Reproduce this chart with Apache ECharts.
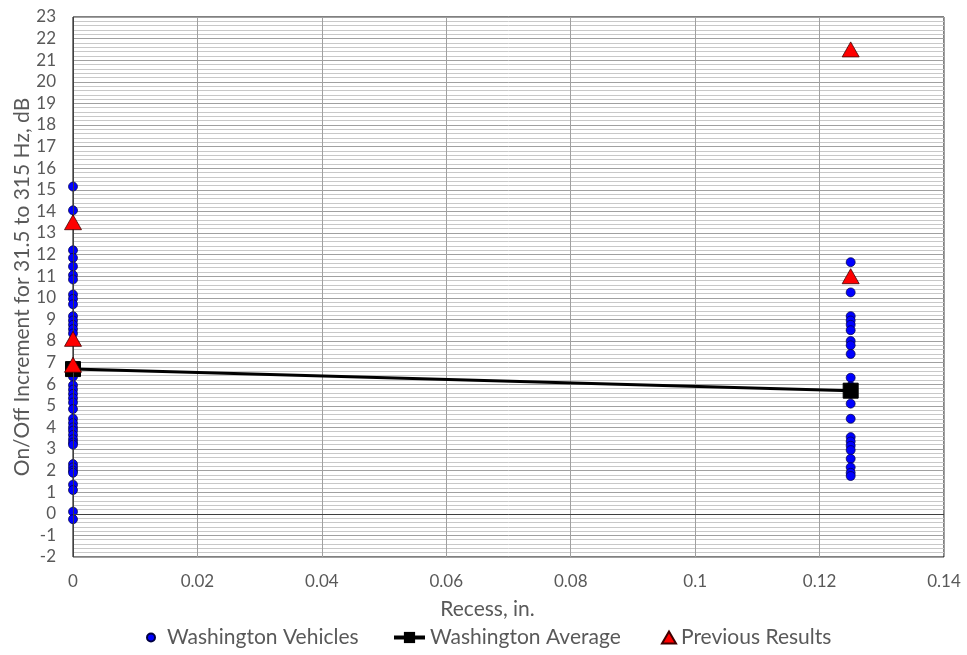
<!DOCTYPE html>
<html>
<head>
<meta charset="utf-8">
<script src="https://cdn.jsdelivr.net/npm/echarts@6/dist/echarts.min.js"></script>
<style>
  html, body { margin: 0; padding: 0; background: #fff; }
  #chart { width: 967px; height: 655px; }
</style>
</head>
<body>
<div id="chart"></div>
<script>
// Recess depths (in.) at which vehicles were measured
const recessFlush = 0;
const recessDeep = 0.125;

// On/Off increment (dB) for each Washington vehicle, flush sensor
const vehiclesFlush = [15.15, 14.05, 12.2, 11.85, 11.45, 11.05, 10.85, 10.15, 9.95, 9.7,
  9.15, 8.95, 8.75, 8.55, 8.35, 6.45, 6.35, 5.95, 5.75, 5.55, 5.35, 5.15, 4.85,
  4.4, 4.2, 4.0, 3.85, 3.65, 3.45, 3.3, 3.2, 2.3, 2.15, 2.0, 1.9, 1.35, 1.1, 0.1, -0.25];

// On/Off increment (dB) for each Washington vehicle, recessed sensor
const vehiclesDeep = [11.65, 10.25, 9.15, 8.95, 8.75, 8.5, 8.0, 7.8, 7.4, 6.3, 5.9, 5.55,
  5.1, 4.4, 3.55, 3.35, 3.15, 2.95, 2.55, 2.15, 1.9, 1.75];

// Average per recess depth
const averageRecess = [0, 0.125];
const averageValues = [6.7, 5.7];

// Earlier study results
const previousRecess = [0, 0, 0, 0.125, 0.125];
const previousValues = [13.5, 8.1, 6.9, 21.5, 11.0];

const vehiclePoints = vehiclesFlush.map(v => [recessFlush, v])
  .concat(vehiclesDeep.map(v => [recessDeep, v]));
const averagePoints = averageRecess.map((x, i) => [x, averageValues[i]]);
const previousPoints = previousRecess.map((x, i) => [x, previousValues[i]]);

const FONT = 'Lato';
const TEXT = '#595959';
const legendText = { fontFamily: FONT, fontSize: 21, color: TEXT };

// One legend block per series so each key gets its own icon size
function legendBlock(name, left, w, h, icon) {
  const item = { name: name };
  if (icon) item.icon = icon;
  return {
    bottom: 7, left: left, padding: 0,
    itemWidth: w, itemHeight: h,
    lineStyle: { width: 4 },
    textStyle: legendText,
    data: [item]
  };
}

const chart = echarts.init(document.getElementById('chart'));
chart.setOption({
  animation: false,
  textStyle: { fontFamily: FONT },
  grid: {
    left: 73, right: 23, top: 17, bottom: 98,
    outerBoundsMode: 'none',
    show: true, borderColor: '#000', borderWidth: 1, backgroundColor: 'transparent'
  },
  legend: [
    legendBlock('Washington Vehicles', 146, 22, 8, 'circle'),
    legendBlock('Washington Average', 392, 31, 14),
    legendBlock('Previous Results', 661, 14, 12, 'triangle')
  ],
  xAxis: {
    type: 'value',
    min: 0, max: 0.14, interval: 0.02,
    name: 'Recess, in.',
    nameLocation: 'middle',
    nameGap: 42,
    nameMoveOverlap: false,
    nameTextStyle: { fontFamily: FONT, fontSize: 21, color: TEXT, padding: [0, 42, 0, 0] },
    axisLine: { show: false, onZero: false },
    axisTick: { show: false },
    axisLabel: { fontFamily: FONT, fontSize: 17, color: TEXT, margin: 16 },
    splitLine: { show: true, lineStyle: { color: '#a0a0a0', width: 1 } }
  },
  yAxis: {
    type: 'value',
    min: -2, max: 23, interval: 1,
    name: 'On/Off Increment for 31.5 to 315 Hz, dB',
    nameLocation: 'middle',
    nameGap: 40,
    nameMoveOverlap: false,
    nameTextStyle: { fontFamily: FONT, fontSize: 21, color: TEXT },
    axisLine: { show: false },
    axisTick: { show: false },
    axisLabel: { fontFamily: FONT, fontSize: 17, color: TEXT, margin: 17 },
    splitLine: { show: true, lineStyle: { color: '#a0a0a0', width: 1 } },
    minorTick: { show: false, splitNumber: 5 },
    minorSplitLine: { show: true, lineStyle: { color: '#c8c8c8', width: 1 } }
  },
  series: [
    {
      name: 'Zero line',
      type: 'line',
      data: [],
      silent: true,
      markLine: {
        silent: true,
        symbol: 'none',
        label: { show: false },
        lineStyle: { color: '#404040', width: 1, type: 'solid' },
        data: [{ yAxis: 0 }, { xAxis: 0 }]
      }
    },
    {
      name: 'Washington Vehicles',
      type: 'scatter',
      symbol: 'circle',
      symbolSize: 9,
      z: 3,
      itemStyle: { color: '#0000ff', borderColor: '#000040', borderWidth: 0.7, opacity: 1 },
      data: vehiclePoints
    },
    {
      name: 'Washington Average',
      type: 'line',
      symbol: 'rect',
      symbolSize: 15,
      z: 4,
      lineStyle: { color: '#000', width: 3 },
      itemStyle: { color: '#000', borderColor: '#000' },
      data: averagePoints
    },
    {
      name: 'Previous Results',
      type: 'scatter',
      symbol: 'triangle',
      symbolSize: [17, 15],
      z: 5,
      itemStyle: { color: '#ff0000', borderColor: '#400000', borderWidth: 0.8, opacity: 1 },
      data: previousPoints
    }
  ]
});
</script>
</body>
</html>
